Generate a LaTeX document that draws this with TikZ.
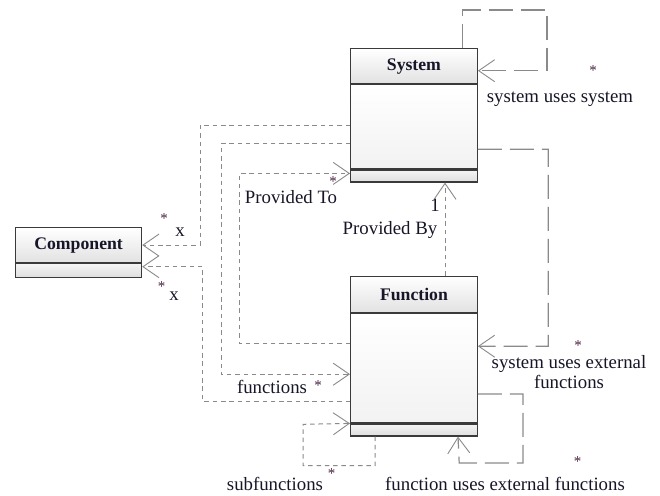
\documentclass[tikz,border=0pt]{standalone}
\usepackage{fontspec}
\setmainfont{Liberation Serif}
\usetikzlibrary{arrows.meta,calc}

\definecolor{linkgray}{HTML}{8A8A8A}
\definecolor{boxedge}{HTML}{3A3A3A}
\definecolor{headbot}{HTML}{E2E2E2}
\definecolor{bodybot}{HTML}{F2F2F2}
\definecolor{foottop}{HTML}{F4F4F4}
\definecolor{footbot}{HTML}{DEDEDE}
\definecolor{textink}{HTML}{161628}
\definecolor{starink}{HTML}{4A2040}

\begin{document}
\begin{tikzpicture}[x=1pt,y=-1pt,
  classhead/.style={draw=boxedge, line width=1.2pt, top color=white, bottom color=headbot,
    anchor=north west, inner sep=0pt, minimum width=126.7pt,
    font=\fontsize{17.7}{20}\selectfont\bfseries, text=textink},
  classbody/.style={draw=boxedge, line width=1.2pt, top color=white, bottom color=bodybot,
    anchor=north west, inner sep=0pt, minimum width=126.7pt},
  classfoot/.style={draw=boxedge, line width=1.2pt, top color=foottop, bottom color=footbot,
    anchor=north west, inner sep=0pt, minimum width=126.7pt},
  tip/.style={-{Straight Barb[length=16pt,width=22pt,line width=0.9pt]}},
  longlink/.style={draw=linkgray, line width=1.2pt, dash pattern=on 24pt off 8pt, tip},
  shortlink/.style={draw=linkgray, line width=1pt, dash pattern=on 4.5pt off 3.8pt, tip},
  lbl/.style={font=\fontsize{18.8}{20}\selectfont, text=textink, inner sep=0pt, anchor=base},
  star/.style={font=\fontsize{15}{17}\selectfont, text=starink, inner sep=0pt, anchor=base},
]
% frame of the picture
\useasboundingbox (0,0) rectangle (660,495);

% class boxes
\node[classhead, minimum height=35pt] (sys) at (350,48) {System};
\node[classbody, minimum height=84pt] (sysattr) at (sys.south west) {};
\node[classfoot, minimum height=12pt] (sysops) at (sysattr.south west) {};

\node[classhead, minimum height=36.3pt] (fun) at (350,275.7) {Function};
\node[classbody, minimum height=109pt] (funattr) at (fun.south west) {};
\node[classfoot, minimum height=12pt] (funops) at (funattr.south west) {};

\node[classhead, minimum width=126pt, minimum height=35pt] (comp) at (15,227) {Component};
\node[classfoot, minimum width=126pt, minimum height=14pt] (compops) at (comp.south west) {};

% system uses system
\draw[longlink] ($(sys.north west)+(112.7,0)$) -- ++(0,-38) -- ++(84.3,0) -- ++(0,60.7)
  -- ($(sys.north east)+(0,22.7)$);
% system uses external functions
\draw[longlink] ($(sysattr.north east)+(0,65)$) -- ++(70.3,0) -- ++(0,197)
  -- ($(funattr.north east)+(0,33)$);
% function uses external functions
\draw[longlink] ($(funattr.north east)+(0,80.7)$) -- ++(45,0) -- ++(0,69) -- ++(-63.7,0)
  -- ($(funops.south west)+(108,0)$);
% subfunctions
\draw[shortlink] ($(funops.south west)+(25,0)$) -- ++(0,29) -- ++(-72,0) -- ++(0,-41.3)
  -- (funops.north west);
% system -> component
\draw[shortlink] ($(sysattr.north west)+(0,41.3)$) -- ++(-150,0) |- (comp.east);
% functions
\draw[shortlink] ($(sysattr.north west)+(0,59.7)$) -- ++(-129,0)
  |- ($(funattr.north west)+(0,61)$);
% Provided To
\draw[shortlink] ($(funattr.north west)+(0,30)$) -- ++(-110.7,0)
  |- ($(sysops.north west)+(0,4)$);
% function -> component
\draw[shortlink] ($(funattr.north west)+(0,88)$) -- ++(-147.3,0)
  |- ($(compops.north east)+(0,3.5)$);
% Provided By
\draw[shortlink] ($(fun.north west)+(95,0)$) -- ($(sysops.south west)+(95,0)$);

% role labels
\node[star] (s1) at (593,75) {*};
\node[lbl] (l1) at (560,102) {system uses system};
\node[star] (s2) at (578,350) {*};
\node[lbl, align=center] (l2) at (569,388.3) {system uses external\\functions};
\node[star] (s3) at (577.7,466) {*};
\node[lbl] (l3) at (505,490) {function uses external functions};
\node[star] (s4) at (331.7,478) {*};
\node[lbl] (l4) at (275,490) {subfunctions};
\node[star] (s5) at (318,390) {*};
\node[lbl] (l5) at (272,393) {functions};
\node[star] (s6) at (333,186) {*};
\node[lbl] (l6) at (291,203) {Provided To};
\node[lbl] (l7) at (390,234) {Provided By};
\node[lbl] (l8) at (435,211) {1};
\node[star] (s9) at (164,223.7) {*};
\node[lbl] (l9) at (180,236) {x};
\node[star] (s10) at (161.7,291) {*};
\node[lbl] (l10) at (174,300) {x};
\end{tikzpicture}
\end{document}
